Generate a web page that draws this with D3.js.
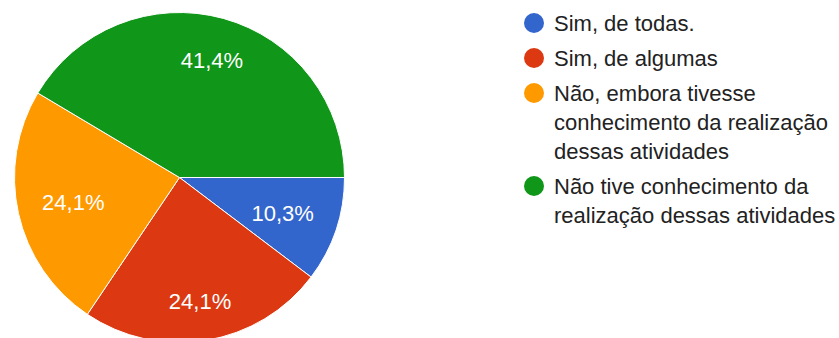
<!DOCTYPE html>
<html>
<head>
<meta charset="utf-8">
<script src="https://cdn.jsdelivr.net/npm/d3@7"></script>
<style>
  html, body { margin: 0; padding: 0; background: #fff; }
  svg { display: block; }
  text { font-family: "Liberation Sans", Arial, sans-serif; }
</style>
</head>
<body>
<svg id="chart" width="839" height="338"></svg>
<script>
// Answer categories and their shares (percent)
const categories = [
  "Sim, de todas.",
  "Sim, de algumas",
  "Não, embora tivesse conhecimento da realização dessas atividades",
  "Não tive conhecimento da realização dessas atividades"
];
const shares = [10.3, 24.1, 24.1, 41.4];
const colors = ["#3366cc", "#dc3912", "#ff9900", "#109618"];

const svg = d3.select("#chart");
const width = 839, height = 338;

// Pie geometry
const cx = 179.5, cy = 177.5, radius = 165;
const labelReach = 141;      // farthest corner of each slice label
const fontSize = 22;

const data = categories.map((c, i) => ({ category: c, value: shares[i], color: colors[i] }));

const pie = d3.pie()
  .sort(null)
  .value(d => d.value)
  .startAngle(Math.PI / 2)
  .endAngle(Math.PI / 2 + 2 * Math.PI);

const arc = d3.arc().innerRadius(0).outerRadius(radius);

const g = svg.append("g").attr("transform", `translate(${cx},${cy})`);

const arcs = pie(data);

g.selectAll("path.slice")
  .data(arcs)
  .join("path")
  .attr("class", "slice")
  .attr("d", arc)
  .attr("fill", d => d.data.color)
  .attr("stroke", "#ffffff")
  .attr("stroke-width", 1);

// Percentage labels, pushed out along the mid-angle until the
// outermost corner of the text box reaches labelReach
const fmt = v => d3.format(".1f")(v).replace(".", ",") + "%";

const labels = g.selectAll("text.pct")
  .data(arcs)
  .join("text")
  .attr("class", "pct")
  .attr("fill", "#ffffff")
  .attr("font-size", fontSize)
  .attr("text-anchor", "middle")
  .attr("dominant-baseline", "central")
  .text(d => fmt(d.data.value));

labels.each(function(d) {
  const w = this.getComputedTextLength();
  const h = fontSize * 0.72;
  const a = (d.startAngle + d.endAngle) / 2;
  const ux = Math.sin(a), uy = -Math.cos(a);
  const b = Math.abs(ux) * w + Math.abs(uy) * h;
  const c = (w * w + h * h) / 4 - labelReach * labelReach;
  const dist = (-b + Math.sqrt(b * b - 4 * c)) / 2;
  d3.select(this)
    .attr("x", dist * ux)
    .attr("y", dist * uy + 1);
});

// Legend
const legendX = 534, textX = 554, firstBaseline = 31;
const lineHeight = 29, itemGap = 6, maxTextWidth = 285;

const legend = svg.append("g").attr("class", "legend");

function wrapLines(str) {
  const probe = legend.append("text").attr("font-size", fontSize);
  const words = str.split(" ");
  const lines = [];
  let line = [];
  words.forEach(w => {
    const trial = line.concat([w]).join(" ");
    probe.text(trial);
    if (line.length && probe.node().getComputedTextLength() > maxTextWidth) {
      lines.push(line.join(" "));
      line = [w];
    } else {
      line.push(w);
    }
  });
  if (line.length) lines.push(line.join(" "));
  probe.remove();
  return lines;
}

let baseline = firstBaseline;
data.forEach(d => {
  const lines = wrapLines(d.category);
  const item = legend.append("g");
  item.append("circle")
    .attr("cx", legendX)
    .attr("cy", baseline - 8)
    .attr("r", 10)
    .attr("fill", d.color);
  const t = item.append("text")
    .attr("x", textX)
    .attr("y", baseline)
    .attr("font-size", fontSize)
    .attr("fill", "#222222");
  lines.forEach((ln, i) => {
    t.append("tspan")
      .attr("x", textX)
      .attr("dy", i === 0 ? 0 : lineHeight)
      .text(ln);
  });
  baseline += lines.length * lineHeight + itemGap;
});
</script>
</body>
</html>
